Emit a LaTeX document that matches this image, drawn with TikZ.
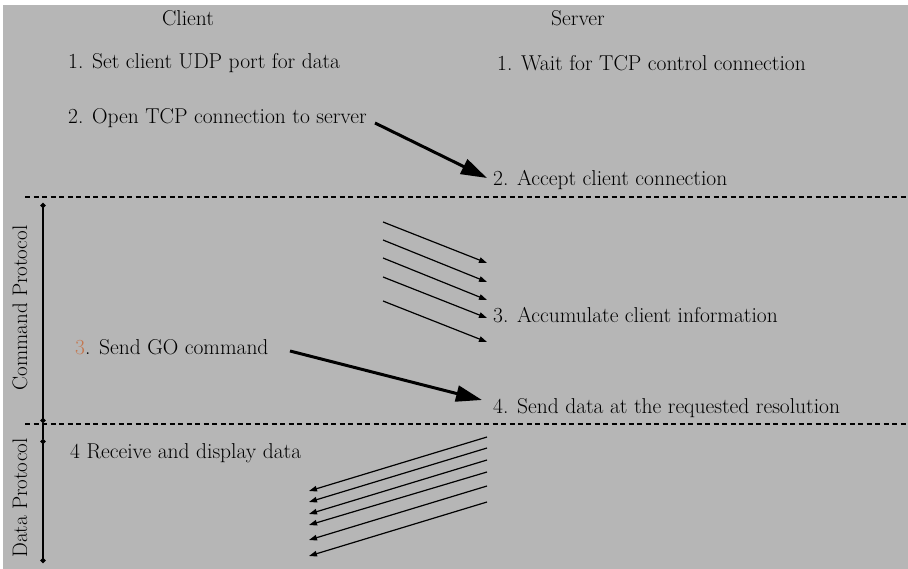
\documentclass[tikz,border=0pt]{standalone}
\usetikzlibrary{arrows.meta}
\definecolor{panel}{RGB}{182,182,182}
\definecolor{stepnum}{RGB}{196,120,80}
\tikzset{
  lbl/.style={anchor=west, inner sep=0pt, font=\fontsize{21.5}{24}\selectfont},
  head/.style={anchor=center, inner sep=0pt, font=\fontsize{21.5}{24}\selectfont},
  side/.style={anchor=center, inner sep=0pt, rotate=90, font=\fontsize{21}{24}\selectfont},
  sep/.style={dashed, line width=1.1pt, dash pattern=on 5pt off 3.5pt},
  phase/.style={line width=1.4pt, {Circle[length=5pt]}-{Circle[length=5pt]}},
  big/.style={line width=3pt, -{Triangle[length=26pt,width=16pt]}},
  small/.style={line width=1.2pt, -{Triangle[length=8pt,width=5.5pt]}}
}
\begin{document}
\begin{tikzpicture}[x=1pt,y=-1pt]
\useasboundingbox (0,0) rectangle (908,569);
\fill[white] (0,0) rectangle (908,569);
\fill[panel] (3,5) rectangle (908,569);

% column headings
\node[head] (client) at (188,18) {Client};
\node[head] (server) at (578,18) {Server};

% setup steps
\node[lbl] (c1) at (68,63) {1. Set client UDP port for data};
\node[lbl] (s1) at (497,63) {1. Wait for TCP control connection};
\node[lbl] (c2) at (68,118) {2. Open TCP connection to server};
\node[lbl] (s2) at (493,180) {2. Accept client connection};

% phase separators
\coordinate (d1a) at (25,197);
\coordinate (d1b) at (908,197);
\coordinate (d2a) at (25,424);
\coordinate (d2b) at (908,424);
\draw[sep] (d1a) -- (d1b);
\draw[sep] (d2a) -- (d2b);

% phase brackets
\coordinate (p1a) at (43,203);
\coordinate (p1b) at (43,423);
\coordinate (p2a) at (43,439);
\coordinate (p2b) at (43,563);
\draw[phase] (p1a) -- (p1b);
\draw[line width=1.4pt] (p1b) -- (p2a);
\draw[phase] (p2a) -- (p2b);
\node[side] (cmd) at (20,308) {Command Protocol};
\node[side] (dat) at (20,498) {Data Protocol};

% connection request
\coordinate (a1s) at (375,123);
\coordinate (a1e) at (487,178);
\draw[big] (a1s) -- (a1e);

% command messages
\foreach \i/\ys/\ye in {1/222/263, 2/240/282, 3/258/300, 4/277/318, 5/301/342} {
  \coordinate (m\i s) at (383,\ys);
  \coordinate (m\i e) at (487,\ye);
  \draw[small] (m\i s) -- (m\i e);
}
\node[lbl] (s3) at (493,315) {3. Accumulate client information};

% GO command
\node[lbl] (c3) at (75,347) {\textcolor{stepnum}{3}. Send GO command};
\coordinate (a2s) at (290,351);
\coordinate (a2e) at (482,400);
\draw[big] (a2s) -- (a2e);
\node[lbl] (s4) at (493,408) {4. Send data at the requested resolution};

% data stream
\node[lbl] (c4) at (70,453) {4 Receive and display data};
\foreach \i/\ys/\ye in {1/437/491, 2/448/502, 3/460/514, 4/472/525, 5/486/540, 6/502/556} {
  \coordinate (u\i s) at (487,\ys);
  \coordinate (u\i e) at (309,\ye);
  \draw[small] (u\i s) -- (u\i e);
}
\end{tikzpicture}
\end{document}
